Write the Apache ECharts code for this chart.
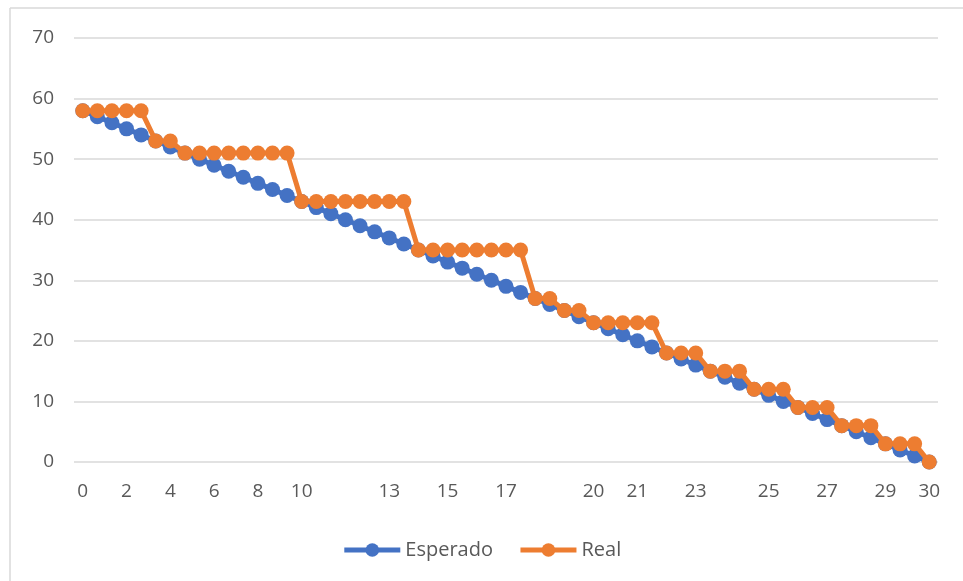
<!DOCTYPE html>
<html>
<head>
<meta charset="utf-8">
<script src="https://cdn.jsdelivr.net/npm/echarts@6/dist/echarts.min.js"></script>
<style>
html,body{margin:0;padding:0;background:#fff;}
#chart{width:963px;height:581px;}
</style>
</head>
<body>
<div id="chart"></div>
<script>
// Point positions (category index along the x axis)
const categories = [0,1,2,3,4,5,6,7,8,9,10,11,12,13,14,15,16,17,18,19,20,21,22,23,24,25,26,27,28,29,30,31,32,33,34,35,36,37,38,39,40,41,42,43,44,45,46,47,48,49,50,51,52,53,54,55,56,57,58];
// Indices where a tick label is shown, and the label text
const labelPositions = [0,3,6,9,12,15,21,25,29,35,38,42,47,51,55,58];
const labelTexts = ["0","2","4","6","8","10","13","15","17","20","21","23","25","27","29","30"];
const esperado = [58,57,56,55,54,53,52,51,50,49,48,47,46,45,44,43,42,41,40,39,38,37,36,35,34,33,32,31,30,29,28,27,26,25,24,23,22,21,20,19,18,17,16,15,14,13,12,11,10,9,8,7,6,5,4,3,2,1,0];
const real = [58,58,58,58,58,53,53,51,51,51,51,51,51,51,51,43,43,43,43,43,43,43,43,35,35,35,35,35,35,35,35,27,27,25,25,23,23,23,23,23,18,18,18,15,15,15,12,12,12,9,9,9,6,6,6,3,3,3,0];
const yTicks = [0,10,20,30,40,50,60,70];

const font = "'Open Sans', 'Liberation Sans', sans-serif";
const chart = echarts.init(document.getElementById('chart'), null, {renderer:'canvas'});
const labelMap = {};
labelPositions.forEach((p,i)=>{labelMap[p]=labelTexts[i];});

chart.setOption({
  animation:false,
  backgroundColor:'#ffffff',
  color:['#4472C4','#ED7D31'],
  grid:{left:74, right:25, top:38, bottom:119, containLabel:false},
  graphic:[
    {type:'line', shape:{x1:10,y1:8,x2:963,y2:8}, style:{stroke:'#d9d9d9', lineWidth:1.5}},
    {type:'line', shape:{x1:10,y1:8,x2:10,y2:581}, style:{stroke:'#d9d9d9', lineWidth:1.5}}
  ],
  xAxis:{
    type:'value', min:-0.6, max:58.6,
    axisLine:{show:false},
    axisTick:{show:false},
    splitLine:{show:false},
    axisLabel:{
      customValues:labelPositions,
      formatter:(v)=>labelMap[Math.round(v)] || '',
      color:'#595959', fontSize:19, fontFamily:font, margin:20
    }
  },
  yAxis:{
    type:'value', min:yTicks[0], max:yTicks[yTicks.length-1], interval:10,
    axisLine:{show:false},
    axisTick:{show:false},
    splitLine:{lineStyle:{color:'#d9d9d9', width:1.5}},
    axisLabel:{color:'#595959', fontSize:19, fontFamily:font, margin:20}
  },
  legend:{
    bottom:16, left:'center',
    itemWidth:56, itemHeight:17, itemGap:25,
    lineStyle:{width:5},
    textStyle:{color:'#595959', fontSize:20, fontFamily:font},
    data:['Esperado','Real']
  },
  series:[
    {name:'Esperado', type:'line', data:categories.map((c,i)=>[c, esperado[i]]),
     symbol:'circle', symbolSize:15, lineStyle:{width:5}, itemStyle:{color:'#4472C4'}, z:2},
    {name:'Real', type:'line', data:categories.map((c,i)=>[c, real[i]]),
     symbol:'circle', symbolSize:15, lineStyle:{width:5}, itemStyle:{color:'#ED7D31'}, z:3}
  ]
});
</script>
</body>
</html>
